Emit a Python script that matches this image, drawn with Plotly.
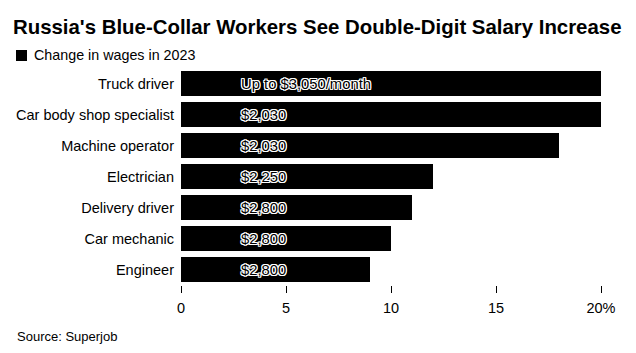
import plotly.graph_objects as go

categories = ["Truck driver", "Car body shop specialist", "Machine operator",
              "Electrician", "Delivery driver", "Car mechanic", "Engineer"]
wage_change = [20, 20, 18, 12, 11, 10, 9]
salary_labels = ["Up to $3,050/month", "$2,030", "$2,030", "$2,250",
                 "$2,800", "$2,800", "$2,800"]
tick_vals = [0, 5, 10, 15, 20]
tick_text = ["0", "5", "10", "15", "20%"]

FONT = "Liberation Sans, Arial, sans-serif"
W, H = 636, 353
L, R, T, B = 181, 35, 68, 68
PW, PH = W - L - R, H - T - B

fig = go.Figure()
fig.add_trace(go.Bar(
    y=categories, x=wage_change, orientation="h",
    marker=dict(color="#000000", line=dict(width=0)),
    name="Change in wages in 2023", showlegend=False,
    hoverinfo="skip",
))

halo = "1px 0 0 #fff, -1px 0 0 #fff, 0 1px 0 #fff, 0 -1px 0 #fff, 1px 1px 0 #fff, -1px -1px 0 #fff, 1px -1px 0 #fff, -1px 1px 0 #fff"
for cat, lab in zip(categories, salary_labels):
    fig.add_annotation(
        x=0, y=cat, xref="x", yref="y", text=lab, showarrow=False,
        xanchor="left", xshift=58,
        font=dict(family=FONT, size=14.8, color="#000000", shadow=halo),
    )

def px_x(p):
    return (p - L) / PW

def px_y(p):
    return (H - B - p) / PH

# legend swatch + label
fig.add_shape(type="rect", xref="paper", yref="paper",
              x0=px_x(16), x1=px_x(27), y0=px_y(61), y1=px_y(50),
              fillcolor="#000000", line=dict(width=0))
fig.add_annotation(text="Change in wages in 2023", xref="paper", yref="paper",
                   x=px_x(32), y=px_y(55), showarrow=False, xanchor="left",
                   yanchor="middle", font=dict(family=FONT, size=14.3, color="#000000"))

fig.update_layout(
    width=W, height=H,
    margin=dict(l=L, r=R, t=T, b=B, autoexpand=False),
    paper_bgcolor="#ffffff", plot_bgcolor="#ffffff",
    bargap=0.19, showlegend=False,
    font=dict(family=FONT, size=14, color="#000000"),
    title=dict(text="<b>Russia's Blue-Collar Workers See Double-Digit Salary Increase</b>",
               x=13 / W, xref="container", xanchor="left", y=1 - 27 / H, yref="container",
               yanchor="middle", font=dict(family=FONT, size=20.4, color="#000000")),
    xaxis=dict(range=[0, 20], tickvals=tick_vals, ticktext=tick_text,
               showgrid=False, zeroline=False, showline=False,
               ticks="outside", ticklen=7, tickcolor="#000000", tickwidth=1,
               ticklabelstandoff=3,
               tickfont=dict(family=FONT, size=14.5), fixedrange=True),
    yaxis=dict(autorange="reversed", showgrid=False, zeroline=False,
               showline=False, ticks="", ticklabelstandoff=6,
               tickfont=dict(family=FONT, size=14.5), fixedrange=True),
)

fig.add_annotation(
    text="Source: Superjob", xref="paper", yref="paper",
    x=px_x(15), y=px_y(336),
    showarrow=False, xanchor="left", yanchor="middle",
    font=dict(family=FONT, size=13, color="#000000"),
)

fig.write_html("out.html")
